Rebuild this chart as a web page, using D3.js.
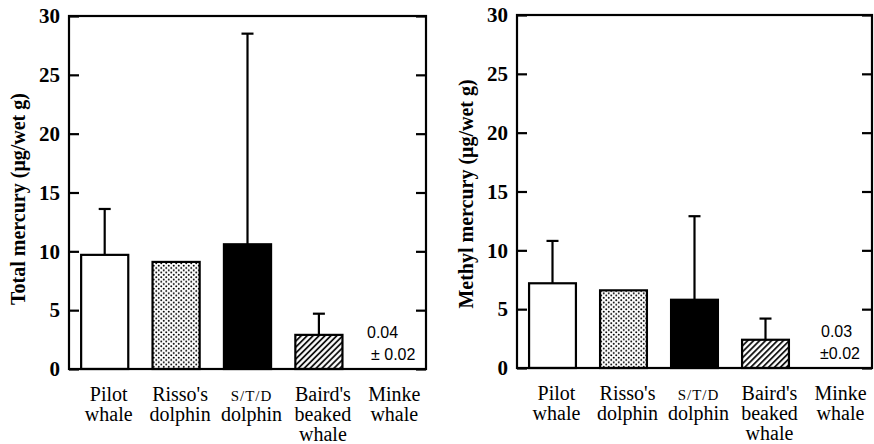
<!DOCTYPE html>
<html>
<head>
<meta charset="utf-8">
<script src="https://cdn.jsdelivr.net/npm/d3@7"></script>
<style>
  html, body { margin: 0; padding: 0; background: #fff; }
  svg { display: block; }
</style>
</head>
<body>
<svg id="chart" width="874" height="444"></svg>
<script>
// ---- Data ----
const categories = ["Pilot whale", "Risso's dolphin", "S/T/D dolphin", "Baird's beaked whale", "Minke whale"];
const categoryLines = [["Pilot", "whale"], ["Risso's", "dolphin"], ["S/T/D", "dolphin"], ["Baird's", "beaked", "whale"], ["Minke", "whale"]];
const totalMean = [9.7, 9.1, 10.6, 2.9, 0.04];
const totalSD   = [3.9, null, 17.9, 1.8, 0.02];
const methylMean = [7.2, 6.6, 5.8, 2.4, 0.03];
const methylSD   = [3.6, null, 7.1, 1.8, 0.02];
const yTicks = [0, 5, 10, 15, 20, 25, 30];
const totalNote = ["0.04", "± 0.02"];
const methylNote = ["0.03", "±0.02"];
const fills = ["#fff", "url(#dots)", "#000", "url(#hatch)", "none"];

const svg = d3.select("#chart");
const defs = svg.append("defs");
const dots = defs.append("pattern").attr("id", "dots")
  .attr("patternUnits", "userSpaceOnUse").attr("width", 5).attr("height", 4.6);
dots.append("rect").attr("width", 5).attr("height", 4.6).attr("fill", "#fff");
dots.append("circle").attr("cx", 1.25).attr("cy", 1.15).attr("r", 1).attr("fill", "#000");
dots.append("circle").attr("cx", 3.75).attr("cy", 3.45).attr("r", 1).attr("fill", "#000");
const hatch = defs.append("pattern").attr("id", "hatch")
  .attr("patternUnits", "userSpaceOnUse").attr("width", 4.2).attr("height", 4.2)
  .attr("patternTransform", "rotate(45)");
hatch.append("rect").attr("width", 4.2).attr("height", 4.2).attr("fill", "#fff");
hatch.append("line").attr("x1", 1).attr("x2", 1).attr("y1", 0).attr("y2", 4.2)
  .attr("stroke", "#000").attr("stroke-width", 1.7);

function panel(cfg) {
  const { left, right, top, bottom, mean, sd, title, titleY, note, noteX } = cfg;
  const g = svg.append("g");
  const x = d3.scaleBand().domain(categories).range([left, right]).padding(0);
  const y = d3.scaleLinear().domain([0, 30]).range([bottom, top]);
  const bw = x.bandwidth() * 0.66;

  // bars
  g.selectAll("rect.bar").data(categories.slice(0, 4)).join("rect")
    .attr("class", "bar")
    .attr("x", d => x(d) + (x.bandwidth() - bw) / 2)
    .attr("width", bw)
    .attr("y", (d, i) => y(mean[i]))
    .attr("height", (d, i) => y(0) - y(mean[i]))
    .attr("fill", (d, i) => fills[i])
    .attr("stroke", "#000").attr("stroke-width", 2.2);

  // error bars
  const eb = categories.map((c, i) => ({ c, m: mean[i], s: sd[i] })).filter((d, i) => d.s != null && i < 4);
  eb.forEach(d => {
    const cx = x(d.c) + x.bandwidth() / 2;
    g.append("line").attr("x1", cx).attr("x2", cx)
      .attr("y1", y(d.m)).attr("y2", y(d.m + d.s))
      .attr("stroke", "#000").attr("stroke-width", 2.2);
    g.append("line").attr("x1", cx - 6).attr("x2", cx + 6)
      .attr("y1", y(d.m + d.s)).attr("y2", y(d.m + d.s))
      .attr("stroke", "#000").attr("stroke-width", 2.2);
  });

  // axes
  const ay = g.append("g").attr("transform", `translate(${left},0)`)
    .call(d3.axisLeft(y).tickValues(yTicks).tickSize(-10).tickPadding(9).tickFormat(d3.format("d")));
  ay.select(".domain").remove();
  ay.selectAll(".tick line").attr("stroke-width", 2.2);
  ay.selectAll(".tick text").attr("font-family", "'Liberation Serif', 'Times New Roman', serif")
    .attr("font-size", 21).attr("font-weight", "bold").attr("fill", "#000");
  const ar = g.append("g").attr("transform", `translate(${right},0)`)
    .call(d3.axisRight(y).tickValues(yTicks).tickSize(-10).tickFormat(""));
  ar.select(".domain").remove();
  ar.selectAll(".tick line").attr("stroke-width", 2.2);

  // frame
  g.append("rect").attr("x", left).attr("y", top).attr("width", right - left).attr("height", bottom - top)
    .attr("fill", "none").attr("stroke", "#000").attr("stroke-width", 2.2);

  // category labels
  categoryLines.forEach((lines, i) => {
    const cx = x(categories[i]) + x.bandwidth() / 2 + 4;
    const t = g.append("text").attr("text-anchor", "middle")
      .attr("font-family", "'Liberation Serif', 'Times New Roman', serif")
      .attr("font-size", 20).attr("fill", "#000");
    lines.forEach((ln, j) => {
      const ts = t.append("tspan").attr("x", cx).attr("y", bottom + 32 + j * 20).text(ln);
      if (ln === "S/T/D") ts.attr("font-size", 15).attr("letter-spacing", 1);
    });
  });

  // y title
  g.append("text")
    .attr("transform", `translate(${left - 44},${titleY}) rotate(-90)`)
    .attr("text-anchor", "middle")
    .attr("font-family", "'Liberation Serif', 'Times New Roman', serif")
    .attr("font-size", 20).attr("font-weight", "bold").attr("fill", "#000")
    .text(title);

  // Minke note
  g.append("text").attr("x", noteX[0]).attr("y", y(0) - 31)
    .attr("font-family", "'Liberation Sans', Arial, sans-serif").attr("font-size", 16).text(note[0]);
  g.append("text").attr("x", noteX[1]).attr("y", y(0) - 9)
    .attr("font-family", "'Liberation Sans', Arial, sans-serif").attr("font-size", 16).text(note[1]);
}

panel({ left: 69, right: 426, top: 16, bottom: 369, mean: totalMean, sd: totalSD,
  title: "Total mercury (μg/wet g)", titleY: 199, note: totalNote, noteX: [367, 371] });
panel({ left: 517, right: 872, top: 15, bottom: 368, mean: methylMean, sd: methylSD,
  title: "Methyl mercury (μg/wet g)", titleY: 194, note: methylNote, noteX: [821, 820] });
</script>
</body>
</html>
